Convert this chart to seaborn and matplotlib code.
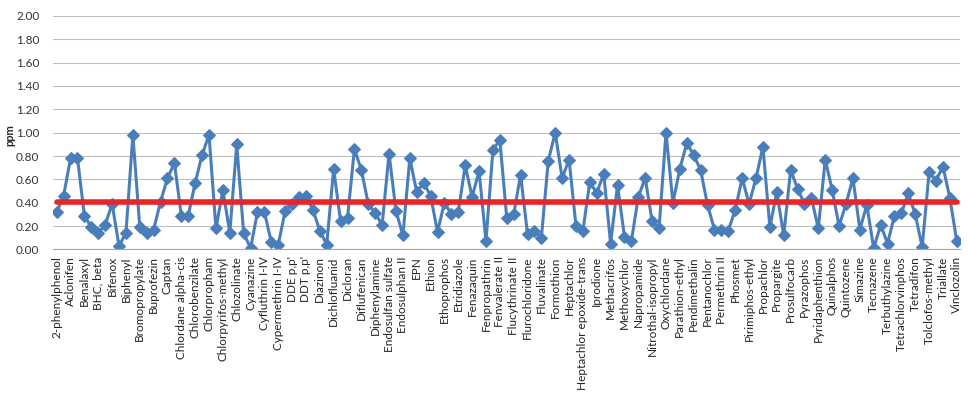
import matplotlib
matplotlib.use("Agg")
import matplotlib.pyplot as plt
import numpy as np
import seaborn as sns

# every other name is printed on the axis, the in-between ones are not shown
categories = [
    "2-phenylphenol", "Acetochlor", "Aclonifen", "Atrazine", "Benalaxyl", "BHC, alpha",
    "BHC, beta", "BHC, gamma", "Bifenox", "Bifenthrin", "Biphenyl", "Bromophos-ethyl",
    "Bromopropylate", "Bupirimate", "Buprofezin", "Cadusafos", "Captan", "Carbophenothion",
    "Chlordane alpha-cis", "Chlorfenvinphos", "Chlorobenzilate", "Chlorothalonil",
    "Chlorpropham", "Chlorpyrifos", "Chlorpyrifos-methyl", "Chlorthal-dimethyl",
    "Chlozolinate", "Coumaphos", "Cyanazine", "Cycloate", "Cyfluthrin I-IV",
    "Cyhalothrin, lambda", "Cypermethrin I-IV", "Cyprodinil", "DDE p,p'", "DDT o,p'",
    "DDT p,p'", "Deltamethrin", "Diazinon", "Dichlobenil", "Dichlofluanid", "Dichlorvos",
    "Dicloran", "Dieldrin", "Diflufenican", "Dimethoate", "Diphenylamine", "Endosulfan I",
    "Endosulfan sulfate", "Endosulphan I", "Endosulphan II", "Endrin", "EPN",
    "Esfenvalerate", "Ethion", "Ethofumesate", "Ethoprophos", "Etofenprox", "Etridiazole",
    "Famoxadone", "Fenazaquin", "Fenitrothion", "Fenpropathrin", "Fenthion",
    "Fenvalerate II", "Fipronil", "Flucythrinate II", "Fludioxonil", "Flurochloridone",
    "Flusilazole", "Fluvalinate", "Folpet", "Formothion", "HCB", "Heptachlor",
    "Heptachlor epoxide-cis", "Heptachlor epoxide-trans", "Hexaconazole", "Iprodione",
    "Malathion", "Methacrifos", "Methidathion", "Methoxychlor", "Myclobutanil",
    "Napropamide", "Nitrofen", "Nitrothal-isopropyl", "Oxadiazon", "Oxychlordane",
    "Paclobutrazol", "Parathion-ethyl", "Parathion-methyl", "Pendimethalin",
    "Penconazole", "Pentanochlor", "Permethrin I", "Permethrin II", "Phosalone",
    "Phosmet", "Pirimicarb", "Pirimiphos-ethyl", "Pirimiphos-methyl", "Propachlor",
    "Propanil", "Propargite", "Propiconazole", "Prosulfocarb", "Prothiofos", "Pyrazophos",
    "Pyridaben", "Pyridaphenthion", "Pyrimethanil", "Quinalphos", "Quinoxyfen",
    "Quintozene", "Quizalofop-ethyl", "Simazine", "Tebuconazole", "Tecnazene", "Terbufos",
    "Terbuthylazine", "Terbutryn", "Tetrachlorvinphos", "Tetraconazole", "Tetradifon",
    "Thiabendazole", "Tolclofos-methyl", "Tolylfluanid", "Triallate", "Triazophos",
    "Vinclozolin",
]

ppm = [
    0.32, 0.46, 0.78, 0.78, 0.29, 0.19, 0.14, 0.21, 0.39, 0.03,
    0.14, 0.98, 0.19, 0.14, 0.17, 0.41, 0.61, 0.74, 0.29, 0.29,
    0.57, 0.81, 0.98, 0.18, 0.51, 0.14, 0.90, 0.14, 0.01, 0.32,
    0.32, 0.06, 0.04, 0.33, 0.39, 0.45, 0.46, 0.34, 0.16, 0.04,
    0.69, 0.24, 0.27, 0.86, 0.68, 0.39, 0.31, 0.21, 0.82, 0.33,
    0.12, 0.78, 0.49, 0.57, 0.46, 0.15, 0.40, 0.30, 0.32, 0.72,
    0.45, 0.67, 0.07, 0.85, 0.94, 0.27, 0.30, 0.64, 0.13, 0.16,
    0.10, 0.76, 1.00, 0.61, 0.77, 0.20, 0.16, 0.58, 0.48, 0.65,
    0.05, 0.55, 0.11, 0.07, 0.45, 0.61, 0.24, 0.18, 1.00, 0.40,
    0.69, 0.91, 0.81, 0.68, 0.38, 0.17, 0.17, 0.16, 0.34, 0.61,
    0.39, 0.61, 0.88, 0.19, 0.49, 0.12, 0.68, 0.52, 0.39, 0.44,
    0.18, 0.77, 0.51, 0.20, 0.39, 0.61, 0.17, 0.38, 0.01, 0.21,
    0.05, 0.29, 0.31, 0.48, 0.30, 0.02, 0.66, 0.59, 0.71, 0.44,
    0.07,
]

average = 0.41
y_ticks = [0.0, 0.2, 0.4, 0.6, 0.8, 1.0, 1.2, 1.4, 1.6, 1.8, 2.0]

sns.set_style("white")
plt.rcParams["font.family"] = ["Lato", "DejaVu Sans"]

fig, ax = plt.subplots(figsize=(9.68, 3.99), dpi=100)
fig.subplots_adjust(left=0.055, right=0.992, top=0.96, bottom=0.375)

x = np.arange(len(categories))
sns.lineplot(x=x, y=ppm, ax=ax, color="#4A7EBB", linewidth=2.2, marker="D",
             markersize=6.5, markeredgecolor="#4A7EBB")
sns.lineplot(x=x, y=[average] * len(categories), ax=ax, color="#E8262A", linewidth=4)

ax.set_xlim(-0.5, len(categories) - 0.5)
ax.set_ylim(0, 2.0)
ax.set_yticks(y_ticks)
ax.set_yticklabels([f"{v:.2f}" for v in y_ticks], fontsize=8.5, color="#333333")
ax.yaxis.grid(True, color="#BFBFBF", linewidth=0.8)
ax.set_axisbelow(True)

ax.set_xticks(x[::2])
ax.set_xticklabels(categories[::2], rotation=90, fontsize=8.5, color="#222222")
ax.tick_params(axis="x", length=0, pad=5)
ax.tick_params(axis="y", length=0, pad=10)

ax.set_ylabel("ppm", fontsize=8, fontweight="bold")
ax.yaxis.set_label_coords(-0.042, 0.49)
for side in ["top", "right", "left"]:
    ax.spines[side].set_visible(False)
ax.spines["bottom"].set_color("#A6A6A6")

fig.savefig("out.png", dpi=100)
